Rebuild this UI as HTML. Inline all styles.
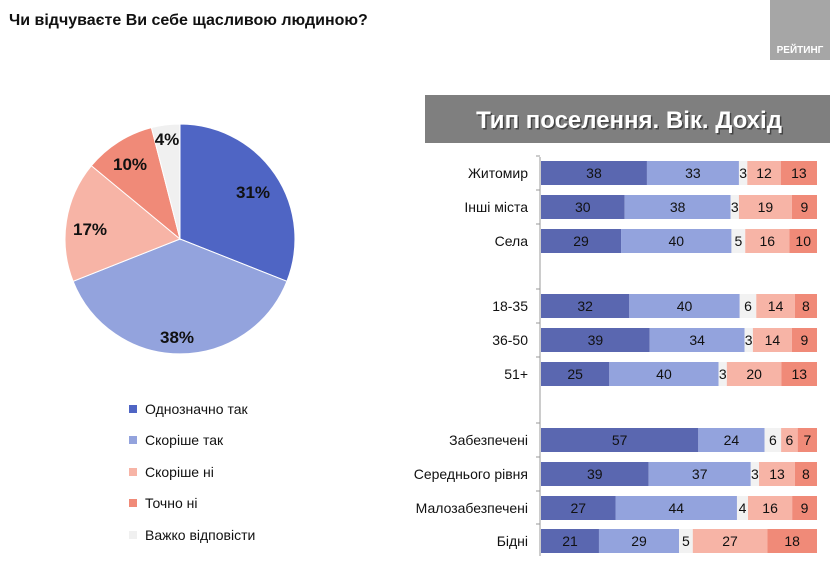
<!DOCTYPE html>
<html><head><meta charset="utf-8"><style>
body{margin:0;width:832px;height:560px;background:#fff;overflow:hidden;font-family:"Liberation Sans",sans-serif;}
</style></head><body>
<svg width="832" height="560" xmlns="http://www.w3.org/2000/svg" font-family="Liberation Sans, sans-serif">
<text x="9" y="25" font-size="16" font-weight="bold" fill="#111">Чи відчуваєте Ви себе щасливою людиною?</text>
<rect x="770" y="0" width="60" height="60" fill="#a6a6a6"/>
<text x="800" y="53" font-size="10" font-weight="bold" fill="#fff" text-anchor="middle">РЕЙТИНГ</text>
<g stroke="#fff" stroke-width="1">
<path d="M180,239 L180,124 A115,115 0 0 1 286.9,281.3 Z" fill="#4f65c4"/>
<path d="M180,239 L286.9,281.3 A115,115 0 0 1 73.1,281.3 Z" fill="#93a3dd"/>
<path d="M180,239 L73.1,281.3 A115,115 0 0 1 91.4,165.7 Z" fill="#f7b4a6"/>
<path d="M180,239 L91.4,165.7 A115,115 0 0 1 151.4,127.6 Z" fill="#f08a78"/>
<path d="M180,239 L151.4,127.6 A115,115 0 0 1 180,124 Z" fill="#f0f0f0"/>
</g>
<g font-size="17" font-weight="bold" fill="#111" text-anchor="middle">
<text x="253" y="198">31%</text>
<text x="177" y="343">38%</text>
<text x="90" y="235">17%</text>
<text x="130" y="170">10%</text>
<text x="167" y="145">4%</text>
</g>
<g font-size="14" fill="#111">
<rect x="129" y="405" width="8" height="8" fill="#4f65c4"/><text x="145" y="414">Однозначно так</text>
<rect x="129" y="436" width="8" height="8" fill="#93a3dd"/><text x="145" y="445">Скоріше  так</text>
<rect x="129" y="468" width="8" height="8" fill="#f7b4a6"/><text x="145" y="477">Скоріше  ні</text>
<rect x="129" y="499" width="8" height="8" fill="#f08a78"/><text x="145" y="508">Точно ні</text>
<rect x="129" y="531" width="8" height="8" fill="#f0f0f0"/><text x="145" y="540">Важко відповісти</text>
</g>
<rect x="425" y="95" width="405" height="48" fill="#7f7f7f"/>
<text x="629" y="128" font-size="24" font-weight="bold" fill="#444" text-anchor="middle" transform="translate(1.5,1.5)">Тип поселення. Вік. Дохід</text>
<text x="629" y="128" font-size="24" font-weight="bold" fill="#fff" text-anchor="middle">Тип поселення. Вік. Дохід</text>
<line x1="540" y1="157" x2="540" y2="556" stroke="#999"/>
<g id="bars" font-size="14" fill="#111"></g>
</svg>
<script>
var rows=[["Житомир",173,[38,33,3,12,13]],["Інші міста",207,[30,38,3,19,9]],["Села",241,[29,40,5,16,10]],
["18-35",306,[32,40,6,14,8]],["36-50",340,[39,34,3,14,9]],["51+",374,[25,40,3,20,13]],
["Забезпечені",440,[57,24,6,6,7]],["Середнього рівня",474,[39,37,3,13,8]],["Малозабезпечені",508,[27,44,4,16,9]],["Бідні",541,[21,29,5,27,18]]];
var cols=["#5a67b0","#93a3dd","#f2f2f2","#f7b4a6","#f08a78"];
var g=document.getElementById("bars"),s="";
rows.forEach(function(r){var x=541,y=r[1],tot=r[2].reduce(function(a,b){return a+b},0),k=276/tot;
s+='<text x="528" y="'+(y+5)+'" text-anchor="end">'+r[0]+'</text>';
s+='<line x1="536" y1="'+(y-17)+'" x2="540" y2="'+(y-17)+'" stroke="#999"/>';
r[2].forEach(function(v,i){var w=v*k;s+='<rect x="'+x+'" y="'+(y-12)+'" width="'+w+'" height="24" fill="'+cols[i]+'"/>';
s+='<text x="'+(x+w/2)+'" y="'+(y+5)+'" text-anchor="middle">'+v+'</text>';x+=w;});});
g.innerHTML=s;
</script>
</body></html>
